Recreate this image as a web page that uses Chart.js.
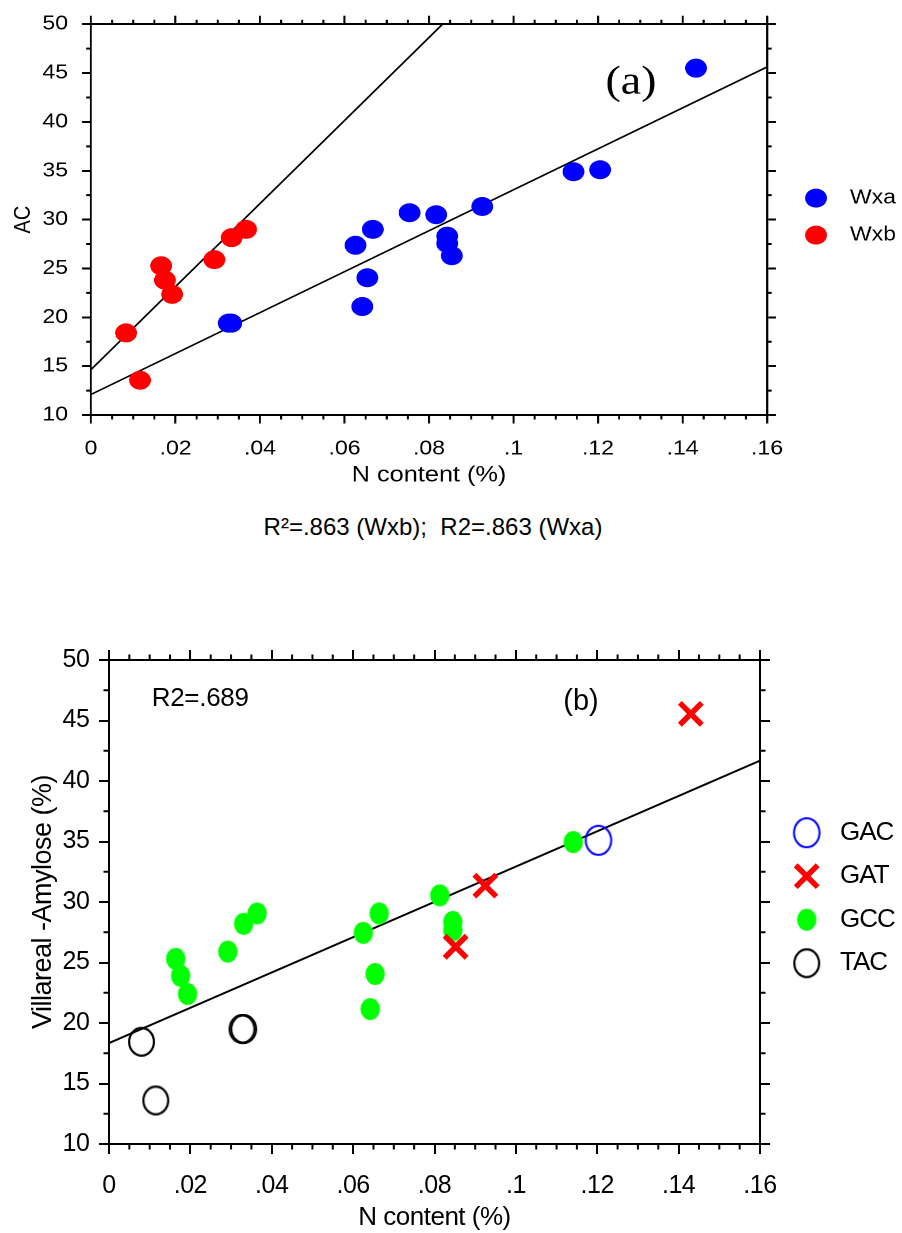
<!DOCTYPE html>
<html>
<head>
<meta charset="utf-8">
<script src="https://cdn.jsdelivr.net/npm/chart.js"></script>
<style>
  html, body { margin: 0; padding: 0; background: #fff; }
  body { width: 902px; height: 1233px; position: relative; overflow: hidden; }
  #ca { position: absolute; left: 0; top: 0; }
  #cb { position: absolute; left: 0; top: 600px; }
  #cap { position: absolute; left: 133px; width: 600px; top: 514.7px; text-align: center;
         font-family: 'Liberation Sans', Arial, Helvetica, sans-serif; font-size: 24px; line-height: 24px;
         color: #000; white-space: pre; }
</style>
</head>
<body>
<canvas id="ca" width="784" height="500" style="width:902px;height:500px"></canvas>
<div id="cap">R²=.863 (Wxb);  R2=.863 (Wxa)</div>
<canvas id="cb" width="902" height="633" style="width:902px;height:633px"></canvas>
<script>
// ---------------- data ----------------
const xTickValues = [0, 0.02, 0.04, 0.06, 0.08, 0.10, 0.12, 0.14, 0.16];
const xTickLabels = ['0', '.02', '.04', '.06', '.08', '.1', '.12', '.14', '.16'];
const yTickValues = [10, 15, 20, 25, 30, 35, 40, 45, 50];
const yTickLabels = ['10', '15', '20', '25', '30', '35', '40', '45', '50'];

// panel (a)
const wxaN  = [0.0326, 0.0332, 0.0626, 0.0642, 0.0654, 0.0667, 0.0754, 0.0817, 0.0843, 0.0843, 0.0854, 0.0926, 0.1142, 0.1205, 0.1432];
const wxaAC = [19.4, 19.4, 27.37, 21.1, 24.05, 29.0, 30.7, 30.5, 28.3, 27.56, 26.3, 31.34, 34.9, 35.1, 45.5];
const wxbN  = [0.0083, 0.0116, 0.0166, 0.0175, 0.0192, 0.0292, 0.0333, 0.0367];
const wxbAC = [18.4, 13.56, 25.27, 23.8, 22.35, 25.9, 28.15, 29.0];
const fitWxaN  = [0, 0.16];
const fitWxaAC = [12.1, 45.62];
const fitWxbN  = [0, 0.0832];
const fitWxbAC = [14.65, 50];

// panel (b)
const gacN = [0.1203];
const gacY = [35.1];
const gatN = [0.0852, 0.0925, 0.1430];
const gatY = [26.3, 31.35, 45.55];
const gccN = [0.0164, 0.0176, 0.0193, 0.0292, 0.0331, 0.0364, 0.0625, 0.0642, 0.0654, 0.0664, 0.0813, 0.0845, 0.0845, 0.1141];
const gccY = [25.3, 23.9, 22.4, 25.9, 28.2, 29.05, 27.45, 21.15, 24.05, 29.05, 30.55, 28.35, 27.65, 34.95];
const tacN = [0.0080, 0.0115, 0.0327, 0.0331];
const tacY = [18.45, 13.6, 19.5, 19.5];
const fitBN = [0, 0.16];
const fitBY = [18.35, 41.68];

// ---------------- helpers ----------------
const FONT = "'Liberation Sans', Arial, Helvetica, sans-serif";
const SERIF = "'Liberation Serif', 'Times New Roman', Times, serif";

function pts(xs, ys) { return xs.map((x, i) => ({ x: x, y: ys[i] })); }

function minorBetween(majors, parts) {
  const out = [];
  for (let i = 0; i < majors.length - 1; i++)
    for (let k = 1; k < parts; k++) out.push(majors[i] + (majors[i + 1] - majors[i]) * k / parts);
  return out;
}

function ellipseImg(w, h, fill, stroke, lw) {
  const c = document.createElement('canvas');
  c.width = Math.ceil(w + 4); c.height = Math.ceil(h + 4);
  const g = c.getContext('2d');
  const inset = stroke ? lw / 2 : 0;
  g.beginPath();
  g.ellipse(c.width / 2, c.height / 2, w / 2 - inset, h / 2 - inset, 0, 0, Math.PI * 2);
  if (fill) { g.fillStyle = fill; g.fill(); }
  if (stroke) { g.strokeStyle = stroke; g.lineWidth = lw; g.stroke(); }
  return c;
}

function axis(pos, min, max, tickVals, o) {
  const vertical = (pos === 'left' || pos === 'right');
  return {
    type: 'linear', position: pos, min: min, max: max,
    afterBuildTicks: s => { s.ticks = tickVals.map(v => ({ value: v })); },
    afterFit: s => { if (vertical) s.width = o.size; else s.height = o.size; },
    grid: { display: true, drawOnChartArea: false, drawTicks: true, tickLength: o.tickLen,
            tickWidth: o.tickW, tickColor: '#000', color: '#000', lineWidth: o.tickW },
    border: { display: true, color: '#000', width: o.borderW },
    ticks: o.labels ? {
      display: true, color: '#000', font: { family: FONT, size: o.fontSize }, padding: o.pad,
      autoSkip: false, maxRotation: 0, minRotation: 0,
      callback: (v, i) => o.labels[i]
    } : { display: false },
    title: o.title ? { display: true, text: o.title, color: '#000',
                       font: { family: FONT, size: o.titleSize }, padding: o.titlePad } : { display: false }
  };
}

function drawMarker(ctx, ds, x, y) {
  const st = ds.pointStyle, r = ds.pointRadius;
  ctx.save();
  if (st instanceof HTMLCanvasElement) {
    ctx.drawImage(st, x - st.width / 2, y - st.height / 2);
  } else if (st === 'crossRot') {
    const d = r * Math.SQRT1_2;
    ctx.strokeStyle = ds.borderColor; ctx.lineWidth = ds.borderWidth;
    ctx.beginPath();
    ctx.moveTo(x - d, y - d); ctx.lineTo(x + d, y + d);
    ctx.moveTo(x + d, y - d); ctx.lineTo(x - d, y + d);
    ctx.stroke();
  } else {
    ctx.fillStyle = ds.backgroundColor;
    ctx.beginPath(); ctx.arc(x, y, r, 0, Math.PI * 2); ctx.fill();
    if (ds.borderWidth > 0) { ctx.strokeStyle = ds.borderColor; ctx.lineWidth = ds.borderWidth; ctx.stroke(); }
  }
  ctx.restore();
}

const decor = {
  id: 'decor',
  beforeDraw(chart, args, opts) {
    if ('letterSpacing' in chart.ctx) chart.ctx.letterSpacing = opts.spacing || '0px';
  },
  afterDraw(chart, args, opts) {
    const ctx = chart.ctx, a = chart.chartArea;
    const sx = chart.scales.x, sy = chart.scales.y;
    ctx.save();
    ctx.strokeStyle = '#000';
    ctx.lineCap = 'butt';
    ctx.lineWidth = opts.minorWV;
    ctx.beginPath();
    for (const v of opts.minorX) {
      const px = sx.getPixelForValue(v);
      ctx.moveTo(px, a.bottom); ctx.lineTo(px, a.bottom + opts.minorLenV);
      ctx.moveTo(px, a.top); ctx.lineTo(px, a.top - opts.minorLenV);
    }
    ctx.stroke();
    ctx.lineWidth = opts.minorWH;
    ctx.beginPath();
    for (const v of opts.minorY) {
      const py = sy.getPixelForValue(v);
      ctx.moveTo(a.left, py); ctx.lineTo(a.left - opts.minorLenH, py);
      ctx.moveTo(a.right, py); ctx.lineTo(a.right + opts.minorLenH, py);
    }
    ctx.stroke();
    for (const t of opts.texts) {
      if ('letterSpacing' in ctx) ctx.letterSpacing = t.spacing || '0px';
      ctx.font = t.font; ctx.fillStyle = '#000';
      ctx.textAlign = t.align; ctx.textBaseline = t.baseline;
      ctx.fillText(t.text, sx.getPixelForValue(t.x), sy.getPixelForValue(t.y));
    }
    const L = opts.legend;
    const mid = (a.top + a.bottom) / 2;
    let k = 0;
    chart.data.datasets.forEach(ds => {
      if (!ds.inLegend) return;
      const y = mid + L.dy0 + k * L.gap;
      drawMarker(ctx, ds, a.right + L.dx, y);
      if ('letterSpacing' in ctx) ctx.letterSpacing = L.spacing || '0px';
      ctx.font = L.font; ctx.fillStyle = '#000';
      ctx.textAlign = 'left'; ctx.textBaseline = 'middle';
      ctx.fillText(ds.label, a.right + L.textDx, y + (L.textDy || 0));
      k++;
    });
    ctx.restore();
  }
};

// ---------------- chart (a) ----------------
const SXA = 902 / 784;   // panel (a) is horizontally stretched in the figure
new Chart(document.getElementById('ca'), {
  type: 'scatter',
  data: {
    datasets: [
      { label: 'Wxa', inLegend: true, data: pts(wxaN, wxaAC), pointStyle: 'circle', pointRadius: 9.5, pointHoverRadius: 9.5,
        backgroundColor: '#0000ff', borderColor: '#0000ff', borderWidth: 0 },
      { label: 'Wxb', inLegend: true, data: pts(wxbN, wxbAC), pointStyle: 'circle', pointRadius: 9.5, pointHoverRadius: 9.5,
        backgroundColor: '#ff0000', borderColor: '#ff0000', borderWidth: 0 },
      { label: 'Wxa fit', data: pts(fitWxaN, fitWxaAC), showLine: true, pointRadius: 0,
        borderColor: '#000', backgroundColor: '#000', borderWidth: 1.6 },
      { label: 'Wxb fit', data: pts(fitWxbN, fitWxbAC), showLine: true, pointRadius: 0,
        borderColor: '#000', backgroundColor: '#000', borderWidth: 1.6 }
    ]
  },
  options: {
    responsive: false, animation: false, devicePixelRatio: 2, events: [],
    layout: { padding: 0 },
    plugins: {
      legend: { display: false }, tooltip: { enabled: false },
      decor: {
        spacing: '0px',
        minorX: minorBetween(xTickValues, 4), minorY: minorBetween(yTickValues, 2),
        minorLenV: 4.5, minorLenH: 4.1, minorWV: 1.75, minorWH: 2,
        texts: [ { text: '(a)', x: 0.1278, y: 42.9, font: '40px ' + SERIF, align: 'center', baseline: 'alphabetic' } ],
        legend: { dx: 42.6, textDx: 72.1, dy0: -21.5, gap: 37, font: '20px ' + FONT }
      }
    },
    scales: {
      x: axis('bottom', 0, 0.16, xTickValues, { size: 85, tickLen: 8.5, tickW: 1.75, borderW: 2, labels: xTickLabels,
            fontSize: 20, pad: 13.5, title: 'N content (%)', titleSize: 22, titlePad: { top: 0, bottom: 11.3 } }),
      y: axis('left', 10, 50, yTickValues, { size: 91 / SXA, tickLen: 7.8, tickW: 2, borderW: 1.75, labels: yTickLabels,
            fontSize: 20, pad: 12.2, title: 'AC', titleSize: 20, titlePad: { top: 8.6, bottom: 0 } }),
      x2: axis('top', 0, 0.16, xTickValues, { size: 22, tickLen: 8.5, tickW: 1.75, borderW: 2 }),
      y2: axis('right', 10, 50, yTickValues, { size: 784 - 767 / SXA, tickLen: 7.8, tickW: 2, borderW: 1.75 })
    }
  },
  plugins: [decor]
});

// ---------------- chart (b) ----------------
const gccImg = ellipseImg(19.5, 22, '#00ff00', null, 0);
const tacImg = ellipseImg(27, 30, null, '#000000', 2.2);
const gacImg = ellipseImg(27.5, 31, null, '#0000ff', 2);

new Chart(document.getElementById('cb'), {
  type: 'scatter',
  data: {
    datasets: [
      { label: 'GAC', inLegend: true, data: pts(gacN, gacY), pointStyle: gacImg, pointRadius: 14, pointHoverRadius: 14,
        backgroundColor: 'rgba(0,0,0,0)', borderColor: '#0000ff', borderWidth: 2 },
      { label: 'GAT', inLegend: true, data: pts(gatN, gatY), pointStyle: 'crossRot', pointRadius: 15.5, pointHoverRadius: 15.5,
        backgroundColor: '#ff0000', borderColor: '#ff0000', borderWidth: 5.5 },
      { label: 'GCC', inLegend: true, data: pts(gccN, gccY), pointStyle: gccImg, pointRadius: 10, pointHoverRadius: 10,
        backgroundColor: '#00ff00', borderColor: '#00ff00', borderWidth: 0 },
      { label: 'TAC', inLegend: true, data: pts(tacN, tacY), pointStyle: tacImg, pointRadius: 14, pointHoverRadius: 14,
        backgroundColor: 'rgba(0,0,0,0)', borderColor: '#000000', borderWidth: 2.2 },
      { label: 'fit', data: pts(fitBN, fitBY), showLine: true, pointRadius: 0,
        borderColor: '#000', backgroundColor: '#000', borderWidth: 2 }
    ]
  },
  options: {
    responsive: false, animation: false, devicePixelRatio: 1, events: [],
    layout: { padding: 0 },
    plugins: {
      legend: { display: false }, tooltip: { enabled: false },
      decor: {
        spacing: '-0.5px',
        minorX: minorBetween(xTickValues, 4), minorY: minorBetween(yTickValues, 2),
        minorLenV: 5.5, minorLenH: 5.5, minorWV: 2, minorWH: 2,
        texts: [
          { text: 'R2=.689', x: 0.0105, y: 46.16, font: '26px ' + FONT, align: 'left', baseline: 'alphabetic', spacing: '-0.3px' },
          { text: '(b)', x: 0.116, y: 45.89, font: '29px ' + FONT, align: 'center', baseline: 'alphabetic' }
        ],
        legend: { dx: 46.7, textDx: 80, dy0: -69.3, gap: 43.5, font: '26px ' + FONT, spacing: '-1px' }
      }
    },
    scales: {
      x: axis('bottom', 0, 0.16, xTickValues, { size: 89, tickLen: 10, tickW: 2, borderW: 2, labels: xTickLabels,
            fontSize: 25, pad: 16.7, title: 'N content (%)', titleSize: 26, titlePad: { top: 0, bottom: 0 } }),
      y: axis('left', 10, 50, yTickValues, { size: 109, tickLen: 10, tickW: 2, borderW: 2, labels: yTickLabels,
            fontSize: 25, pad: 9.7, title: 'Villareal -Amylose (%)', titleSize: 27, titlePad: { top: 27.8, bottom: 0 } }),
      x2: axis('top', 0, 0.16, xTickValues, { size: 60, tickLen: 10, tickW: 2, borderW: 2 }),
      y2: axis('right', 10, 50, yTickValues, { size: 142, tickLen: 10, tickW: 2, borderW: 2 })
    }
  },
  plugins: [decor]
});
</script>
</body>
</html>
